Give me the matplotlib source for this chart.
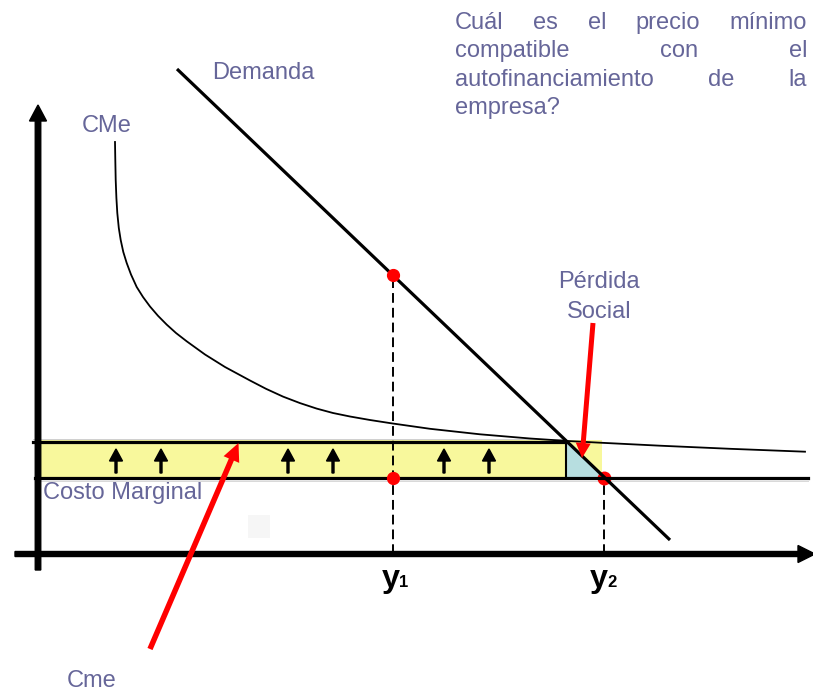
import numpy as np
import matplotlib
matplotlib.use('Agg')
import matplotlib.pyplot as plt
from matplotlib.patches import Rectangle, Polygon

plt.rcParams['font.family'] = ['Liberation Sans', 'DejaVu Sans']

# ---------------- data (quantity, price) ----------------
demand_q = [139, 632]
demand_p = [485, 14]
cme_q = [77, 77.3, 77.7, 78.4, 79.3, 80.8, 82.7, 85.3, 88.7, 93, 98.7, 105,
         112, 120, 128.7, 138, 148.7, 167, 187, 212, 228, 245, 262, 278.7,
         295, 312, 332, 354, 392, 442, 492, 528, 564, 622, 692, 767]
cme_p = [412, 394, 374, 356, 341, 326, 314, 302, 291, 279.5, 267, 257,
         247.5, 238.2, 229.4, 221, 212.7, 199.5, 187, 173.5, 165.2, 157.4, 150.9, 145.4,
         141, 137.5, 134, 130.6, 125.2, 119.7, 115.5, 113.1, 111.2, 108.3, 105.2, 102.3]
p_cme = 112      # precio que cubre el costo medio
p_cmg = 76.5     # costo marginal
q1 = 355
q2 = 565.5
q_loss = 528
q_yellow_end = 564
p_yellow_top = 114
arrow_q = [78, 123, 250, 295, 406, 451]

TXT = '#666699'
FS = 17

fig = plt.figure(figsize=(8.13, 6.91), dpi=100)
ax = fig.add_axes([0, 0, 1, 1])
ax.set_xlim(-38, 775)
ax.set_ylim(-137, 554)
ax.axis('off')

# faint artifact square
ax.add_patch(Rectangle((210, 16), 22, 23, fc='#F6F6F6', ec='none', zorder=0))

# yellow area and social loss triangle
ax.add_patch(Rectangle((0, p_cmg), q_yellow_end, p_yellow_top - p_cmg,
                       fc='#F8F89C', ec='none', zorder=1))
ax.add_patch(Polygon([(q_loss, p_cme), (q_loss, p_cmg), (q2, p_cmg)],
                     closed=True, fc='#B7DEE0', ec='none', zorder=2))

# faint ghost lines
ax.plot([-5, q_loss], [p_cme + 3.5, p_cme + 3.5], color='#CFCFCF', lw=0.7, zorder=1.5)
ax.plot([-3, 770], [p_cmg - 3, p_cmg - 3], color='#D8D8D8', lw=0.7, zorder=1.5)

# dashed guides
p1 = np.interp(q1, demand_q, demand_p)
ax.plot([q1, q1], [0, p1], color='black', lw=1.4, ls=(0, (5, 2.6)), zorder=2.2)
ax.plot([q2, q2], [0, p_cmg], color='black', lw=1.4, ls=(0, (5, 2.6)), zorder=2.2)

# y2 dot below the lines
ax.plot([q2], [p_cmg], 'o', color='red', ms=9, zorder=2.5)

# curves
ax.plot(demand_q, demand_p, color='black', lw=2.3, zorder=3, solid_capstyle='butt')
ax.plot(cme_q, cme_p, color='black', lw=1.3, zorder=3, solid_joinstyle='round')
ax.plot([-5, q_loss], [p_cme, p_cme], color='black', lw=2.3, zorder=3)
ax.plot([-3, 770], [p_cmg, p_cmg], color='black', lw=2.3, zorder=3)
ax.plot([q_loss, q_loss], [p_cmg, p_cme], color='black', lw=1.5, zorder=3)

# red dots at y1
ax.plot([q1, q1], [p1, p_cmg], 'o', color='red', ms=8.5, zorder=5)

# axes arrows
ax.arrow(0, -16, 0, 465, width=5.5, head_width=17, head_length=16,
         length_includes_head=True, color='black', zorder=4)
ax.arrow(-23, 0, 800, 0, width=5, head_width=17, head_length=17,
         length_includes_head=True, color='black', zorder=4)

# small up arrows
for q in arrow_q:
    ax.arrow(q, 81, 0, 24, width=2, head_width=13, head_length=12,
             length_includes_head=True, color='black', zorder=4)

# red annotation arrows
ax.arrow(112, -95, 88.5, 206, width=5.5, head_width=17, head_length=18,
         length_includes_head=True, color='red', ec='none', zorder=6)
ax.arrow(555, 231, -11, -135, width=5, head_width=15, head_length=15,
         length_includes_head=True, color='red', ec='none', zorder=6)

# labels
ax.text(174, 475, 'Demanda', color=TXT, fontsize=FS, va='baseline', ha='left')
ax.text(44, 422, 'CMe', color=TXT, fontsize=FS, va='baseline', ha='left')
ax.text(560.5, 266, 'Pérdida', color=TXT, fontsize=FS, va='baseline', ha='center')
ax.text(561, 236, 'Social', color=TXT, fontsize=FS, va='baseline', ha='center')
ax.text(4.7, 54.7, 'Costo Marginal', color=TXT, fontsize=FS, va='baseline', ha='left')
ax.text(28.7, -132.7, 'Cme', color=TXT, fontsize=FS, va='baseline', ha='left')

ax.text(343.7, -32.7, 'y', fontsize=23.4, fontweight='bold', va='baseline', ha='left')
ax.text(361, -32.7, '1', fontsize=12, fontweight='bold', va='baseline', ha='left')
ax.text(552, -32.7, 'y', fontsize=23.4, fontweight='bold', va='baseline', ha='left')
ax.text(569.5, -32.7, '2', fontsize=12, fontweight='bold', va='baseline', ha='left')

# justified question block
lines = [['Cuál', 'es', 'el', 'precio', 'mínimo'],
         ['compatible', 'con', 'el'],
         ['autofinanciamiento', 'de', 'la'],
         ['empresa?']]
left, right = 417, 769
baselines = [525.5, 497, 468.5, 440]
fig.canvas.draw()
renderer = fig.canvas.get_renderer()
inv = ax.transData.inverted()
for i, (words, yb) in enumerate(zip(lines, baselines)):
    texts = [ax.text(0, yb, w, color=TXT, fontsize=FS, va='baseline', ha='left')
             for w in words]
    widths = []
    for t in texts:
        bb = t.get_window_extent(renderer)
        x0 = inv.transform((bb.x0, 0))[0]
        x1 = inv.transform((bb.x1, 0))[0]
        widths.append(x1 - x0)
    if len(words) > 1 and i < len(lines) - 1:
        gap = (right - left - sum(widths)) / (len(words) - 1)
    else:
        gap = 0
    x = left
    for t, w in zip(texts, widths):
        t.set_x(x)
        x += w + gap

fig.savefig('out.png', dpi=100)
